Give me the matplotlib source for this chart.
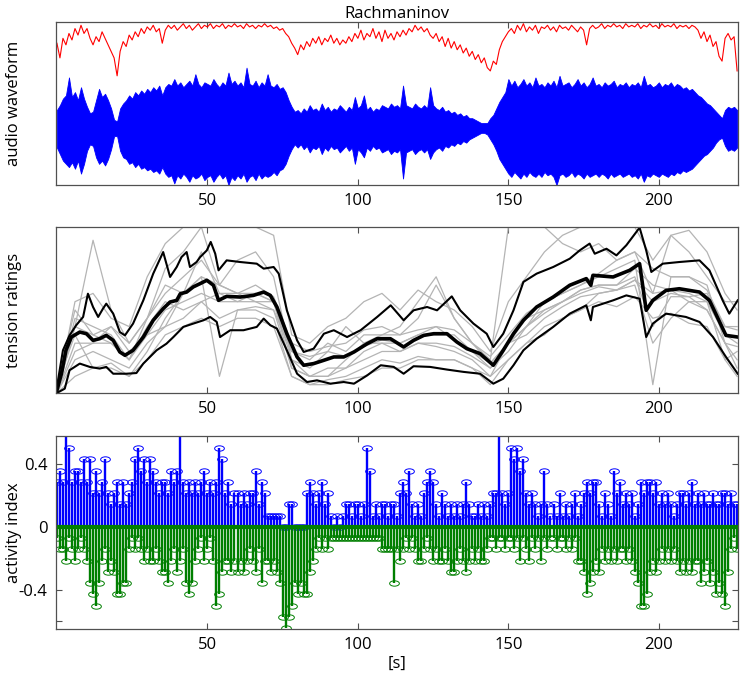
import numpy as np
import matplotlib
matplotlib.use("Agg")
import matplotlib.pyplot as plt
from matplotlib.path import Path
from matplotlib.transforms import Affine2D

plt.rcParams['font.family'] = ['Open Sans', 'DejaVu Sans']

# ---------------- audio (1 s resolution) ----------------
secs = np.arange(227)

feature_red = [
    87, 78, 90, 86, 93, 89, 96, 92, 98, 93, 96, 90, 86, 91, 88, 94, 90, 86, 82, 78,
    67, 82, 88, 85, 92, 89, 94, 91, 96, 93, 97, 95, 98, 94, 96, 87, 95, 98, 96, 98,
    95, 97, 99, 96, 98, 95, 97, 99, 96, 98, 97, 99, 96, 98, 97, 99, 96, 98, 97, 99,
    97, 98, 96, 99, 97, 98, 96, 98, 97, 99, 97, 98, 96, 97, 95, 96, 93, 91, 87, 84,
    80, 86, 83, 88, 85, 90, 87, 91, 86, 90, 88, 92, 87, 90, 86, 89, 87, 91, 88, 93,
    90, 95, 89, 93, 91, 96, 90, 94, 88, 95, 90, 93, 89, 94, 91, 95, 92, 96, 94, 98,
    95, 97, 94, 96, 92, 90, 93, 88, 91, 85, 90, 84, 88, 83, 86, 81, 84, 79, 82, 77,
    80, 75, 78, 72, 70, 76, 74, 83, 88, 91, 94, 96, 93, 98, 95, 99, 94, 97, 95, 98,
    93, 97, 96, 98, 95, 97, 94, 98, 96, 97, 95, 98, 96, 94, 97, 95, 86, 96, 98, 96,
    97, 99, 96, 98, 97, 99, 97, 98, 96, 99, 97, 98, 97, 99, 96, 98, 97, 99, 97, 98,
    96, 99, 97, 98, 97, 99, 96, 98, 97, 98, 96, 98, 97, 95, 90, 94, 88, 92, 85, 88,
    79, 76, 90, 93, 89, 91, 70]

wave_up = [
    11, 14, 18, 20, 31, 19, 22, 17, 25, 18, 13, 9, 10, 17, 24, 19, 21, 17, 12, 5,
    4, 12, 15, 17, 20, 18, 22, 20, 23, 21, 24, 22, 25, 23, 26, 20, 25, 27, 26, 30,
    26, 28, 25, 27, 29, 26, 33, 27, 25, 28, 27, 26, 30, 27, 25, 28, 26, 34, 27, 29,
    26, 28, 25, 37, 27, 26, 29, 25, 28, 26, 33, 26, 25, 27, 24, 25, 22, 17, 13, 10,
    11, 9, 12, 10, 14, 11, 12, 10, 15, 11, 13, 10, 12, 11, 14, 12, 10, 13, 11, 19,
    12, 14, 20, 11, 13, 10, 12, 11, 14, 13, 12, 15, 13, 14, 12, 26, 14, 13, 12, 15,
    13, 12, 14, 12, 25, 14, 12, 11, 13, 10, 11, 9, 10, 8, 9, 7, 8, 6, 6, 5,
    4, 3, 3, 3, 6, 8, 12, 16, 19, 22, 30, 26, 29, 25, 27, 30, 26, 28, 25, 31,
    26, 27, 25, 28, 26, 29, 25, 32, 26, 27, 28, 25, 27, 30, 26, 28, 25, 27, 31, 26,
    27, 25, 28, 26, 27, 29, 25, 27, 26, 28, 25, 27, 26, 28, 25, 32, 26, 27, 25, 26,
    28, 25, 27, 26, 28, 25, 27, 26, 24, 25, 23, 24, 22, 20, 19, 17, 15, 14, 12, 10,
    8, 6, 11, 13, 12, 13, 11]

wave_down = [
    12, 16, 20, 22, 24, 21, 25, 20, 28, 22, 14, 10, 11, 18, 22, 20, 23, 19, 13, 5,
    5, 14, 18, 19, 22, 21, 24, 22, 25, 24, 26, 25, 27, 26, 28, 24, 28, 30, 29, 34,
    29, 31, 28, 30, 33, 29, 31, 30, 28, 32, 30, 29, 33, 30, 28, 31, 29, 35, 30, 32,
    29, 31, 28, 33, 30, 29, 32, 28, 31, 29, 30, 29, 27, 29, 26, 25, 22, 17, 13, 10,
    12, 10, 13, 11, 15, 12, 13, 11, 16, 12, 14, 11, 13, 12, 15, 13, 11, 14, 12, 22,
    13, 15, 18, 12, 14, 11, 13, 12, 15, 14, 13, 16, 14, 15, 13, 31, 15, 14, 13, 16,
    14, 13, 15, 13, 19, 15, 13, 12, 14, 11, 12, 10, 11, 9, 10, 8, 9, 7, 6, 5,
    4, 3, 3, 4, 7, 10, 14, 19, 22, 25, 28, 30, 27, 29, 31, 28, 30, 27, 29, 30,
    28, 30, 27, 29, 28, 30, 35, 29, 28, 30, 29, 27, 30, 28, 29, 31, 28, 30, 29, 28,
    30, 28, 29, 31, 28, 30, 29, 28, 30, 29, 28, 30, 29, 31, 28, 33, 29, 30, 28, 29,
    30, 28, 29, 30, 28, 29, 27, 28, 26, 27, 26, 25, 23, 21, 19, 17, 16, 14, 12, 9,
    7, 6, 11, 14, 13, 14, 12]

# ---------------- tension ratings ----------------
mean_t = [0, 1.5, 3, 4.8, 7.6, 9.8, 12, 14.2, 16.4, 18.7, 20.9, 22.6, 25.3, 28.7, 32, 35.3,
          37.6, 39.8, 41, 43.1, 45.3, 47.6, 49.8, 52, 53.7, 56.4, 60.9, 65.3, 68.7, 70.9,
          73.1, 76.4, 79.8, 82, 85.3, 88.7, 92, 95.3, 98.7, 103.1, 106.4, 110.8, 115.2,
          118.5, 121.9, 125.2, 129.6, 132.9, 136.2, 140.6, 145, 148.3, 151.7, 155, 159.4,
          164.9, 170.4, 175.9, 177.4, 178.1, 184.8, 190.3, 193.6, 195.8, 198, 202.4,
          206.8, 213.5, 216.8, 222.3, 226.2]
mean_v = [0.016, 0.116, 0.257, 0.337, 0.367, 0.357, 0.317, 0.327, 0.347, 0.317, 0.247, 0.227,
          0.257, 0.337, 0.438, 0.508, 0.548, 0.558, 0.598, 0.608, 0.639, 0.659, 0.679, 0.649,
          0.558, 0.582, 0.578, 0.588, 0.608, 0.588, 0.518, 0.357, 0.217, 0.167, 0.177, 0.197,
          0.217, 0.217, 0.247, 0.297, 0.327, 0.327, 0.277, 0.317, 0.347, 0.357, 0.357, 0.307,
          0.267, 0.237, 0.167, 0.257, 0.357, 0.438, 0.518, 0.578, 0.649, 0.689, 0.649, 0.709,
          0.699, 0.739, 0.779, 0.498, 0.558, 0.618, 0.628, 0.608, 0.558, 0.347, 0.337]

upper_t = [0, 2, 4.2, 6.4, 8.7, 10.3, 12, 13.7, 15.3, 16.4, 18.7, 20.9, 22.6, 25.3, 28.7, 32,
           35.3, 37.6, 39.8, 41.4, 43.1, 44.2, 46.4, 47.6, 49.8, 51.1, 52.6, 53.7, 56.4, 60.9,
           66.4, 68.7, 72, 73.7, 76.4, 79.8, 82, 85.3, 88.7, 92, 96.4, 100.9, 106.4, 110.9,
           115.2, 118.5, 123, 126.3, 131.2, 134, 138.4, 142.8, 145, 148.3, 151.7, 155, 159.4,
           164.9, 170.4, 173.7, 177, 178.7, 182.6, 185.9, 189.2, 193.6, 195.8, 197.5, 201.3,
           206.8, 213.5, 216.8, 221.2, 223.4, 226.2]
upper_v = [0.036, 0.257, 0.347, 0.408, 0.458, 0.598, 0.518, 0.458, 0.508, 0.538, 0.478, 0.367,
           0.347, 0.418, 0.558, 0.719, 0.849, 0.699, 0.759, 0.819, 0.849, 0.759, 0.789, 0.819,
           0.859, 0.910, 0.839, 0.739, 0.799, 0.789, 0.779, 0.749, 0.759, 0.719, 0.498, 0.317,
           0.247, 0.267, 0.357, 0.378, 0.337, 0.378, 0.458, 0.528, 0.438, 0.498, 0.518, 0.498,
           0.582, 0.498, 0.418, 0.357, 0.277, 0.357, 0.498, 0.669, 0.719, 0.759, 0.809, 0.859,
           0.900, 0.839, 0.869, 0.829, 0.890, 0.996, 0.859, 0.729, 0.779, 0.789, 0.799, 0.739,
           0.558, 0.478, 0.558]

lower_t = [0, 2.6, 4.2, 7.6, 10.9, 14.2, 16.4, 18.7, 23.1, 26.4, 28.7, 33.1, 36.4, 38.7, 42,
           45.3, 48.7, 50.9, 53.1, 54.2, 57.6, 62, 66.4, 68.7, 70.9, 73.1, 76.4, 79.8, 83.1,
           86.4, 90.9, 95.3, 98.7, 103.1, 107.6, 111.9, 115.2, 118.5, 124, 129.6, 135.1,
           140.6, 145, 148.3, 151.7, 155, 159.4, 164.9, 170.4, 175.9, 177.4, 178.1, 184.8,
           189.2, 193.6, 195.8, 198, 202.4, 209, 213.5, 218, 222.3, 226.2]
lower_v = [0.0, 0.026, 0.137, 0.177, 0.157, 0.147, 0.157, 0.116, 0.116, 0.120, 0.177, 0.257,
           0.297, 0.337, 0.398, 0.418, 0.438, 0.458, 0.428, 0.337, 0.378, 0.378, 0.398, 0.448,
           0.408, 0.388, 0.257, 0.116, 0.066, 0.076, 0.056, 0.066, 0.056, 0.106, 0.167, 0.157,
           0.116, 0.161, 0.157, 0.141, 0.127, 0.116, 0.056, 0.086, 0.167, 0.257, 0.327, 0.398,
           0.478, 0.528, 0.438, 0.518, 0.558, 0.588, 0.568, 0.337, 0.418, 0.478, 0.458, 0.428,
           0.337, 0.217, 0.116]

# individual raters (percent of scale) on a 6 s grid
rater_t = [0, 6, 12, 18, 24, 30, 36, 42, 48, 54, 60, 66, 72, 78, 84, 90, 96, 102, 108, 114,
           120, 126, 132, 138, 144, 150, 156, 162, 168, 174, 180, 186, 192, 198, 204, 210,
           216, 222, 226]
raters = [
    [0, 55, 60, 45, 40, 70, 90, 100, 100, 100, 100, 100, 95, 35, 30, 40, 45, 55, 60, 50, 62, 55, 50, 40, 25, 55, 70, 85, 95, 100, 100, 100, 100, 80, 95, 98, 85, 60, 50],
    [0, 40, 92, 50, 30, 45, 75, 85, 100, 65, 80, 85, 70, 20, 15, 25, 40, 30, 35, 40, 55, 70, 45, 30, 20, 100, 100, 100, 90, 85, 90, 80, 85, 60, 95, 85, 70, 55, 55],
    [0, 20, 25, 20, 15, 30, 40, 45, 55, 45, 50, 52, 50, 15, 10, 15, 15, 25, 30, 25, 30, 30, 28, 22, 15, 30, 35, 45, 52, 58, 60, 62, 68, 55, 60, 58, 50, 30, 28],
    [0, 30, 30, 40, 25, 35, 50, 55, 60, 55, 55, 55, 55, 20, 10, 10, 20, 30, 30, 30, 35, 40, 32, 25, 15, 25, 40, 50, 55, 62, 65, 65, 70, 40, 58, 58, 60, 40, 40],
    [5, 35, 15, 15, 10, 25, 45, 60, 70, 10, 50, 50, 45, 10, 5, 5, 8, 10, 15, 15, 20, 20, 20, 15, 10, 20, 30, 35, 45, 50, 60, 62, 65, 30, 45, 55, 55, 20, 25],
    [0, 45, 40, 35, 20, 40, 55, 50, 55, 60, 60, 55, 50, 25, 20, 30, 25, 35, 35, 35, 45, 65, 45, 30, 18, 30, 40, 55, 60, 65, 70, 75, 80, 5, 70, 70, 65, 30, 20],
    [0, 25, 30, 30, 20, 35, 40, 60, 85, 60, 55, 60, 55, 15, 10, 10, 15, 20, 25, 25, 30, 28, 25, 20, 10, 30, 45, 50, 55, 62, 65, 65, 75, 65, 62, 55, 50, 30, 15],
    [0, 10, 15, 18, 10, 20, 35, 40, 45, 40, 45, 45, 40, 10, 5, 8, 10, 15, 20, 18, 22, 20, 20, 15, 5, 20, 30, 40, 45, 50, 55, 52, 58, 45, 48, 42, 40, 20, 10],
    [5, 50, 35, 40, 30, 45, 60, 70, 80, 65, 60, 65, 58, 30, 25, 28, 30, 38, 40, 35, 38, 40, 38, 30, 22, 35, 48, 55, 60, 65, 72, 80, 85, 75, 70, 70, 62, 40, 38],
    [0, 40, 35, 30, 20, 45, 65, 60, 70, 65, 60, 60, 55, 25, 22, 25, 22, 28, 32, 30, 35, 35, 35, 25, 18, 30, 40, 48, 55, 60, 64, 62, 68, 60, 62, 60, 55, 35, 30],
]

# ---------------- activity index (raters out of 14, 1 s resolution) ----------------
n_raters = 14
act_up = [
    4, 5, 4, 9, 7, 4, 5, 5, 4, 6, 4, 6, 3, 5, 3, 4, 6, 3, 2, 3,
    4, 2, 4, 2, 3, 4, 6, 7, 5, 6, 4, 6, 5, 4, 3, 4, 4, 3, 5, 4,
    5, 9, 4, 3, 4, 3, 4, 3, 4, 5, 3, 4, 3, 4, 7, 6, 3, 4, 2, 3,
    3, 2, 3, 2, 3, 3, 5, 2, 4, 3, 1, 1, 1, 1, 1, 0, 0, 2, 2, 0,
    0, 0, 0, 3, 4, 3, 2, 3, 4, 2, 3, 1, 0, 1, 0, 1, 2, 2, 1, 2,
    2, 1, 2, 7, 5, 1, 2, 1, 2, 2, 1, 2, 2, 1, 3, 4, 3, 5, 2, 1,
    2, 1, 3, 4, 5, 4, 2, 1, 3, 2, 1, 2, 1, 2, 1, 2, 4, 2, 1, 1,
    2, 1, 2, 1, 2, 3, 3, 9, 3, 2, 3, 7, 6, 7, 5, 6, 3, 2, 3, 2,
    1, 2, 5, 2, 1, 2, 1, 3, 1, 2, 1, 2, 3, 1, 2, 3, 4, 3, 4, 4,
    2, 1, 3, 2, 1, 5, 3, 4, 2, 3, 2, 3, 1, 2, 4, 3, 4, 4, 3, 4,
    2, 3, 2, 3, 2, 1, 2, 3, 3, 2, 3, 4, 2, 3, 2, 3, 2, 2, 3, 2,
    2, 3, 3, 2, 3, 2, 2]
act_down = [
    1, 2, 2, 3, 1, 2, 3, 2, 1, 2, 3, 5, 6, 7, 5, 3, 2, 4, 3, 4,
    6, 6, 5, 5, 2, 1, 2, 1, 2, 3, 2, 3, 3, 2, 3, 4, 4, 5, 3, 2,
    4, 3, 2, 5, 6, 5, 3, 2, 1, 3, 2, 1, 3, 7, 6, 4, 3, 3, 4, 3,
    4, 3, 4, 3, 2, 3, 4, 2, 5, 3, 3, 4, 3, 4, 5, 8, 9, 8, 7, 5,
    6, 5, 6, 6, 4, 3, 2, 1, 2, 1, 2, 1, 1, 1, 1, 1, 1, 1, 1, 1,
    1, 1, 1, 1, 1, 1, 1, 1, 2, 2, 2, 2, 5, 2, 3, 2, 1, 2, 1, 2,
    3, 3, 2, 1, 2, 3, 2, 3, 3, 2, 3, 4, 4, 3, 2, 3, 4, 3, 2, 3,
    2, 3, 3, 2, 1, 1, 2, 1, 1, 2, 1, 1, 2, 1, 3, 1, 2, 3, 1, 2,
    1, 3, 1, 2, 1, 1, 2, 1, 1, 2, 1, 2, 1, 3, 3, 4, 6, 5, 4, 3,
    4, 2, 3, 2, 3, 2, 3, 2, 2, 3, 2, 3, 4, 5, 7, 7, 6, 4, 3, 4,
    3, 2, 3, 2, 3, 2, 3, 4, 3, 4, 3, 4, 3, 3, 5, 4, 3, 5, 4, 6,
    5, 6, 7, 4, 2, 1, 2]

# ---------------- figure ----------------
fig = plt.figure(figsize=(7.45, 6.78), dpi=100)
ax1 = fig.add_axes([0.0752, 0.7271, 0.9154, 0.2404])
ax2 = fig.add_axes([0.0752, 0.4204, 0.9154, 0.2448])
ax3 = fig.add_axes([0.0752, 0.0723, 0.9154, 0.2847])

spine_col = '#505050'
for ax in (ax1, ax2, ax3):
    ax.set_xlim(-0.3, 226.3)
    ax.set_xticks([50, 100, 150, 200])
    ax.tick_params(direction='in', top=True, right=True, length=4, width=0.8,
                   colors=spine_col, labelcolor='black', labelsize=12, pad=6)
    for s in ax.spines.values():
        s.set_color(spine_col)
        s.set_linewidth(0.9)

# top panel: feature line + waveform envelope
wave_center = 35
up = np.array(wave_up)
dn = np.array(wave_down)
ax1.fill_between(secs, wave_center - dn, wave_center + up, color='#0000ff', lw=0.6)
ax1.plot(secs, feature_red, color='#ff0000', lw=0.8)
ax1.set_ylim(0, 100)
ax1.set_yticks([])
ax1.set_ylabel('audio waveform', fontsize=12)
ax1.yaxis.set_label_coords(-0.05, 0.5)
ax1.set_title('Rachmaninov', fontsize=12, pad=3)

# middle panel: tension ratings
for r in raters:
    ax2.plot(rater_t, np.array(r) / 100.0, color='#b4b4b4', lw=0.9)
ax2.plot(upper_t, upper_v, color='black', lw=1.5)
ax2.plot(lower_t, lower_v, color='black', lw=1.5)
ax2.plot(mean_t, mean_v, color='black', lw=2.6)
ax2.set_ylim(0, 1)
ax2.set_yticks([])
ax2.set_ylabel('tension ratings', fontsize=12)
ax2.yaxis.set_label_coords(-0.05, 0.5)

# bottom panel: activity index stems
ell = Path.unit_circle().transformed(Affine2D().scale(1.0, 0.55))
pos = np.array(act_up) / n_raters
neg = -np.array(act_down) / n_raters
sb = ax3.stem(secs, pos, linefmt='-', markerfmt='o', basefmt=' ')
sb.stemlines.set_color('#0000ff')
sb.stemlines.set_linewidth(1.7)
sb.markerline.set_marker(ell)
sb.markerline.set_color('#0000ff')
sb.markerline.set_markerfacecolor('none')
sb.markerline.set_markersize(7)
sb.markerline.set_markeredgewidth(0.7)
sg = ax3.stem(secs, neg, linefmt='-', markerfmt='o', basefmt='-')
sg.stemlines.set_color('#007f00')
sg.stemlines.set_linewidth(1.7)
sg.markerline.set_marker(ell)
sg.markerline.set_color('#007f00')
sg.markerline.set_markerfacecolor('none')
sg.markerline.set_markersize(7)
sg.markerline.set_markeredgewidth(0.7)
sg.baseline.set_color('#007f00')
sg.baseline.set_linewidth(3)
ax3.set_ylim(-0.648, 0.578)
ax3.set_yticks([-0.6, -0.4, 0, 0.4])
ax3.set_yticklabels(['', '-0.4', '0', '0.4'])
ax3.set_ylabel('activity index', fontsize=12)
ax3.yaxis.set_label_coords(-0.05, 0.5)
ax3.set_xlabel('[s]', fontsize=12, labelpad=2)

fig.savefig('out.png', dpi=100)
